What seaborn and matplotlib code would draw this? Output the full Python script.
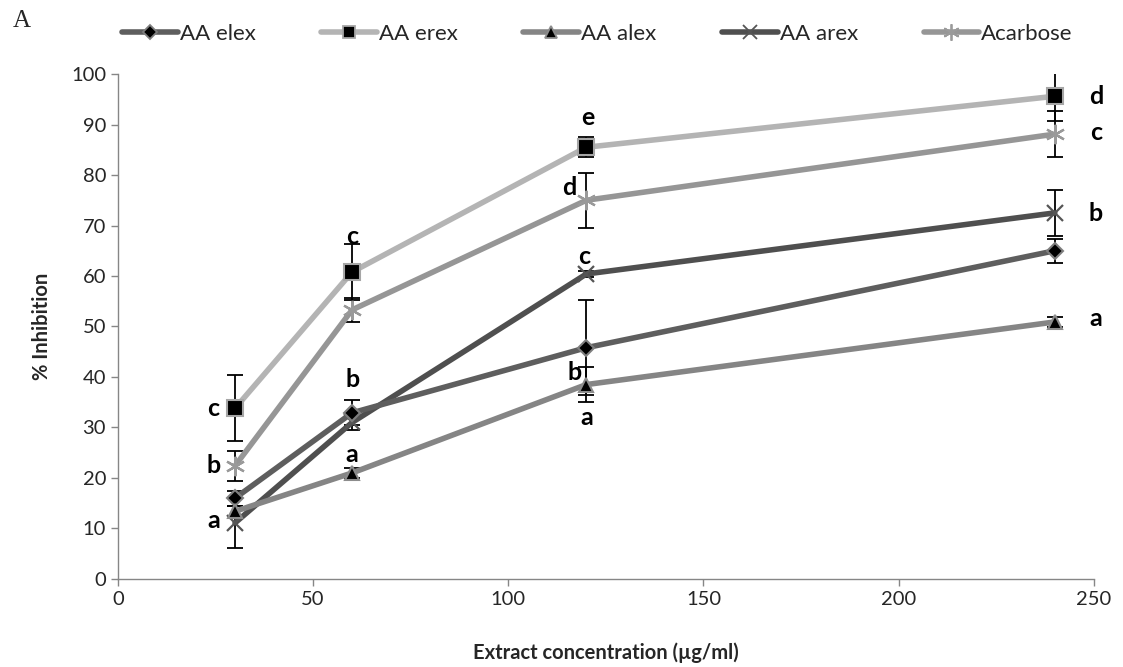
import matplotlib
matplotlib.use("Agg")
import matplotlib.pyplot as plt
import seaborn as sns
import pandas as pd
from matplotlib.lines import Line2D

conc = [30, 60, 120, 240]
series_names = ["AA elex", "AA erex", "AA alex", "AA arex", "Acarbose"]
elex = [16.0, 32.9, 45.8, 65.0]
erex = [33.8, 60.8, 85.5, 95.6]
alex = [13.4, 21.0, 38.5, 50.9]
arex = [11.1, 31.0, 60.4, 72.5]
acarbose = [22.4, 53.3, 75.0, 88.1]
elex_err = [1.5, 2.5, 9.4, 2.4]
erex_err = [6.5, 5.6, 2.0, 5.0]
alex_err = [1.0, 1.0, 3.5, 1.0]
arex_err = [5.0, 1.5, 0.5, 4.5]
acarbose_err = [3.0, 2.4, 5.4, 4.5]

# significance letters: (x, y, text)
letter_x = [24.5, 24.5, 24.5, 60, 60, 60, 120.5, 115.5, 119.5, 117, 120, 250.5, 250.5, 250.5, 250.5]
letter_y = [33.8, 22.5, 11.5, 67.8, 39.6, 24.6, 91.3, 77.6, 63.8, 40.8, 31.9, 95.6, 88.4, 72.3, 51.5]
letter_t = ["c", "b", "a", "c", "b", "a", "e", "d", "c", "b", "a", "d", "c", "b", "a"]

values = [elex, erex, alex, arex, acarbose]
errors = [elex_err, erex_err, alex_err, arex_err, acarbose_err]

rows = []
for name, vals, errs in zip(series_names, values, errors):
    for c, v, e in zip(conc, vals, errs):
        rows.append({"series": name, "conc": c, "inh": v, "err": e})
df = pd.DataFrame(rows)

sns.set_theme(style="white")
plt.rcParams["font.family"] = ["Lato", "DejaVu Sans"]

line_colors = {"AA elex": "#5e5e5e", "AA erex": "#b4b4b4", "AA alex": "#858585",
               "AA arex": "#4f4f4f", "Acarbose": "#969696"}
markers = {"AA elex": "D", "AA erex": "s", "AA alex": "^", "AA arex": "x", "Acarbose": (6, 2, 0)}
msizes = {"AA elex": 8, "AA erex": 11, "AA alex": 10, "AA arex": 12, "Acarbose": 14}
mface = {"AA elex": "black", "AA erex": "black", "AA alex": "black",
         "AA arex": "#555555", "Acarbose": "#9a9a9a"}
medge = {"AA elex": "#7f7f7f", "AA erex": "#a6a6a6", "AA alex": "#8c8c8c",
         "AA arex": "#555555", "Acarbose": "#9a9a9a"}

fig = plt.figure(figsize=(11.23, 6.67), dpi=100)
ax = fig.add_axes([0.105, 0.132, 0.869, 0.757])

draw_order = ["AA erex", "Acarbose", "AA arex", "AA elex", "AA alex"]
for name in draw_order:
    sub = df[df["series"] == name]
    ax.errorbar(sub["conc"], sub["inh"], yerr=sub["err"], fmt="none", ecolor="black",
                elinewidth=1.3, capsize=6, capthick=1.3, zorder=2)
for name in draw_order:
    sub = df[df["series"] == name]
    sns.lineplot(data=sub, x="conc", y="inh", ax=ax, color=line_colors[name], linewidth=4,
                 marker=markers[name], markersize=msizes[name], markerfacecolor=mface[name],
                 markeredgecolor=medge[name],
                 markeredgewidth=1.5 if name not in ("AA arex", "Acarbose") else 1.6,
                 errorbar=None, zorder=3, legend=False)

for x, y, t in zip(letter_x, letter_y, letter_t):
    ax.text(x, y, t, ha="center", va="center", fontsize=18, fontweight="bold", color="black", zorder=5)

ax.set_xlim(0, 250)
ax.set_ylim(0, 100)
ax.set_xticks([0, 50, 100, 150, 200, 250])
ax.set_yticks(range(0, 101, 10))
ax.tick_params(axis="both", labelsize=14.5, length=5, direction="out", color="#868686",
               left=True, bottom=True, width=1)
for s in ["top", "right"]:
    ax.spines[s].set_visible(False)
for s in ["left", "bottom"]:
    ax.spines[s].set_color("#868686")
    ax.spines[s].set_linewidth(1)
ax.set_xlabel("Extract concentration (µg/ml)", fontsize=14.5, fontweight="bold", labelpad=25)
ax.set_ylabel("% Inhibition", fontsize=14.5, fontweight="bold", labelpad=14)

handles = []
for name in series_names:
    handles.append(Line2D([0], [0], color=line_colors[name], linewidth=4, marker=markers[name],
                          markersize=msizes[name] * 0.85, markerfacecolor=mface[name],
                          markeredgecolor=medge[name], markeredgewidth=1.3))
fig.legend(handles, series_names, loc="center", bbox_to_anchor=(0.532, 0.949), ncol=5,
           frameon=False, fontsize=16, handlelength=2.5, handletextpad=0.1, columnspacing=2.95)

fig.text(0.011, 0.968, "A", fontsize=18, family="Liberation Serif", ha="left", va="center")

fig.savefig("out.png", dpi=100)
